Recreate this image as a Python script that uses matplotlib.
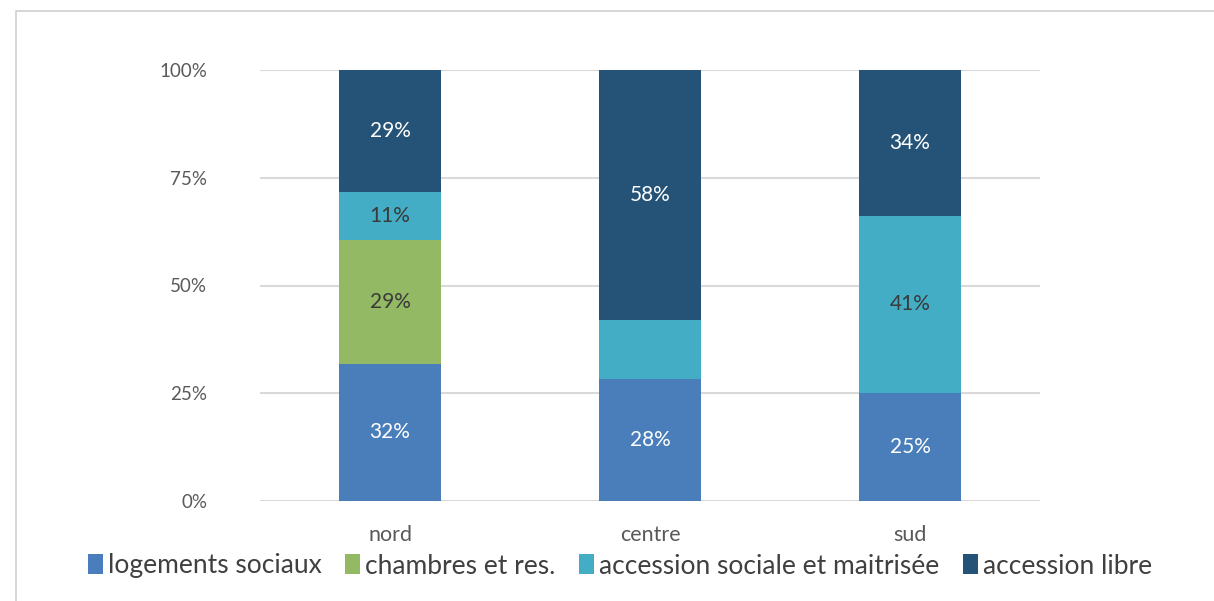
import numpy as np
import matplotlib.pyplot as plt
from matplotlib.patches import Rectangle

plt.rcParams['font.family'] = ['Lato', 'DejaVu Sans']

zones = ["nord", "centre", "sud"]
series = ["logements sociaux", "chambres et res.", "accession sociale et maitrisée", "accession libre"]

logements = [31.8, 28.4, 25.1]
chambres = [28.8, 0.0, 0.0]
accession_sociale = [11.1, 13.7, 41.0]
accession_libre = [28.3, 57.9, 33.9]

labels = [
    ["32%", "28%", "25%"],
    ["29%", None, None],
    ["11%", None, "41%"],
    ["29%", "58%", "34%"],
]

colors = ["#4A7EBB", "#93B964", "#42ADC4", "#255377"]
text_colors = ["white", "#3a3a3a", "#3a3a3a", "white"]
grey = "#595959"


def main():
    fig = plt.figure(figsize=(12.14, 6.01), dpi=100)
    ax = fig.add_axes([260 / 1214, 1 - 501 / 601, 780 / 1214, 431 / 601])

    x = np.arange(len(zones))
    bottom = np.zeros(len(zones))
    data = [logements, chambres, accession_sociale, accession_libre]
    for vals, lab, col, tcol, name in zip(data, labels, colors, text_colors, series):
        vals = np.array(vals)
        ax.bar(x, vals, 0.395, bottom=bottom, color=col, label=name, zorder=3)
        for i, v in enumerate(vals):
            if lab[i] is not None:
                ax.text(x[i], bottom[i] + v / 2, lab[i], ha="center", va="center",
                        color=tcol, fontsize=15, zorder=4)
        bottom += vals

    ax.set_xlim(-0.5, 2.5)
    ax.set_ylim(0, 100)
    ax.set_yticks([0, 25, 50, 75, 100])
    ax.set_yticklabels(["0%", "25%", "50%", "75%", "100%"])
    ax.set_xticks(x)
    ax.set_xticklabels(zones)
    ax.tick_params(length=0, labelsize=13.5, colors=grey)
    ax.tick_params(axis="y", pad=38)
    ax.tick_params(axis="x", pad=17, labelsize=15.5)
    ax.grid(axis="y", color="#D9D9D9", linewidth=1.5, zorder=0)
    for s in ax.spines.values():
        s.set_visible(False)

    fig.legend(loc="center", bbox_to_anchor=(620 / 1214, 1 - 566 / 601), ncol=4,
               frameon=False, fontsize=19, handlelength=0.55, handleheight=0.8,
               handletextpad=0.2, columnspacing=0.9, labelcolor="#404040")

    fig.patches.append(Rectangle((16 / 1214, -0.1), 1.5, 1 - 11 / 601 + 0.1,
                                 transform=fig.transFigure, fill=False,
                                 edgecolor="#D0D0D0", linewidth=1.2))

    fig.savefig("out.png", dpi=100)


if __name__ == "__main__":
    main()
